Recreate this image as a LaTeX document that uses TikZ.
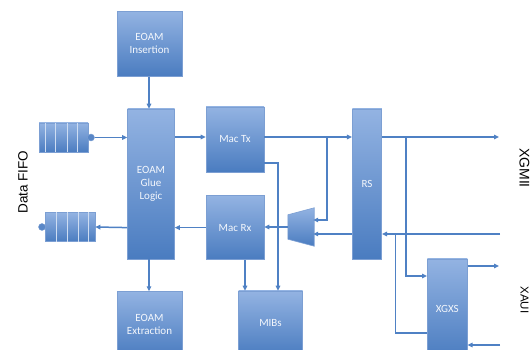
\documentclass[tikz,border=0pt]{standalone}
\usepackage{fontspec}
\setmainfont{Carlito}
\newfontfamily\labelfont{Liberation Sans}
\usetikzlibrary{arrows.meta,calc,positioning}
\definecolor{blktop}{HTML}{93B3E2}
\definecolor{blkbot}{HTML}{4A7CC0}
\definecolor{blkedge}{HTML}{7C9FD3}
\definecolor{wirecol}{HTML}{4F81C4}

\begin{document}
\begin{tikzpicture}[
  x=1pt, y=-1pt,
  node distance=32pt,
  block/.style={rectangle, draw=blkedge, line width=0.6pt, top color=blktop, bottom color=blkbot, text=white!90!blktop, font=\fontsize{11}{13}\selectfont, align=center, inner sep=0pt},
  fifo/.style={rectangle, draw=blkedge, line width=0.6pt, top color=blktop, bottom color=blkbot, minimum height=29pt, inner sep=0pt},
  cellline/.style={draw=white!55!blktop, line width=0.7pt},
  tail/.style={circle, draw=blkedge, fill=blkbot!80!blktop, minimum size=7pt, inner sep=0pt},
  wire/.style={draw=wirecol, line width=1.5pt, -{Triangle[length=5pt,width=4.5pt]}},
  line/.style={draw=wirecol, line width=1.5pt},
  sidelabel/.style={font=\labelfont, text=black}
]
  \clip (0,0) rectangle (531,350);
  \fill[white] (0,0) rectangle (531,350);

  \node (glue) [block, minimum width=47pt, minimum height=150pt] at (151,184) {EOAM\\Glue\\Logic};
  \node (ins) [block, minimum width=65pt, minimum height=65pt, above=32pt of glue, xshift=-1.5pt] {EOAM\\Insertion};
  \node (ext) [block, minimum width=65pt, minimum height=65pt, below=32pt of glue, xshift=-1.5pt] {EOAM\\Extraction};

  \node (mactx) [block, minimum width=58pt, minimum height=65pt] at (235,139.5) {Mac Tx};
  \node (macrx) [block, minimum width=58pt, minimum height=64pt, below=23pt of mactx] {Mac Rx};
  \node (mibs) [block, minimum width=64pt, minimum height=65pt] at (270.5,323.5) {MIBs};
  \node (rs) [block, minimum width=29.5pt, minimum height=150pt] at (367,184) {RS};
  \node (xgxs) [block, minimum width=40pt, minimum height=100pt] at (447.3,309) {XGXS};

  \node (mux) [minimum width=26pt, minimum height=24pt, inner sep=0pt] at (301,227) {};
  \path[draw=blkedge, line width=0.6pt, top color=blktop, bottom color=blkbot]
    (mux.north west) -- ([yshift=7pt]mux.north east) -- ([yshift=-7pt]mux.south east) -- (mux.south west) -- cycle;

  \node (fifoa) [fifo, minimum width=49pt] at (63.5,137.5) {};
  \foreach \x in {7,17,29,39}
    \draw[cellline] ([xshift=\x pt]fifoa.north west) -- ([xshift=\x pt]fifoa.south west);
  \node (taila) [tail, right=-1pt of fifoa] {};

  \node (fifob) [fifo, minimum width=50pt] at (70,227) {};
  \foreach \x in {12,23,34,44}
    \draw[cellline] ([xshift=\x pt]fifob.north west) -- ([xshift=\x pt]fifob.south west);
  \node (tailb) [tail, left=-1pt of fifob] {};

  \coordinate (txrow) at (0,137);
  \coordinate (muxup) at (0,220);
  \coordinate (rxback) at (0,234);
  \coordinate (tapm) at (327,137);
  \coordinate (mibrow) at (278,163);
  \coordinate (mibcol) at (245,0);
  \coordinate (inscol) at (149,0);
  \coordinate (tapx) at (406,137);
  \coordinate (xgrow) at (0,276);
  \coordinate (joinx) at (395.5,234);
  \coordinate (xgback) at (0,333);
  \coordinate (xgmiiout) at (499,137);
  \coordinate (xgmiiin) at (500,234);
  \coordinate (xauiout) at (499,266);
  \coordinate (xauiin) at (500,345);

  \draw[wire] (ins.south -| inscol) -- (glue.north -| inscol);
  \draw[wire] (glue.south -| inscol) -- (ext.north -| inscol);
  \draw[wire] (taila.east) -- (glue.west |- taila.east);
  \draw[wire] (glue.east |- txrow) -- (mactx.west |- txrow);
  \draw[wire] (mactx.east |- txrow) -- (rs.west |- txrow);
  \draw[wire] (tapm) |- ([xshift=-1pt]mux.east |- muxup);
  \draw[wire] (rs.west |- rxback) -- ([xshift=-1pt]mux.east |- rxback);
  \draw[wire] (mux.west) -- (macrx.east |- mux.west);
  \draw[wire] (macrx.west) -- (glue.east |- macrx.west);
  \draw[wire] (glue.west |- macrx.west) -- (fifob.east);
  \draw[wire] (mactx.east |- mibrow) -| (mibs.north -| mibrow);
  \draw[wire] (macrx.south -| mibcol) -- (mibs.north -| mibcol);
  \draw[wire] (rs.east |- txrow) -- (xgmiiout);
  \draw[wire] (tapx) |- (xgxs.west |- xgrow);
  \draw[wire] (xgmiiin) -- (rs.east |- xgmiiin);
  \draw[line] (xgxs.west |- xgback) -| (joinx);
  \draw[wire] (xgxs.east |- xauiout) -- (xauiout);
  \draw[wire] (xauiin) -- (xgxs.east |- xauiin);

  \node (fifolbl) [sidelabel, font=\labelfont\fontsize{13.5}{13.5}\selectfont, rotate=90] at (23,182) {Data FIFO};
  \node (xgmiilbl) [sidelabel, font=\labelfont\fontsize{14}{14}\selectfont, rotate=-90, inner sep=1pt] at (524.5,168) {XGMII};
  \node (xauilbl) [sidelabel, font=\labelfont\fontsize{11.5}{11.5}\selectfont, rotate=-90, inner sep=1pt] at (524.5,300) {XAUI};
\end{tikzpicture}
\end{document}
